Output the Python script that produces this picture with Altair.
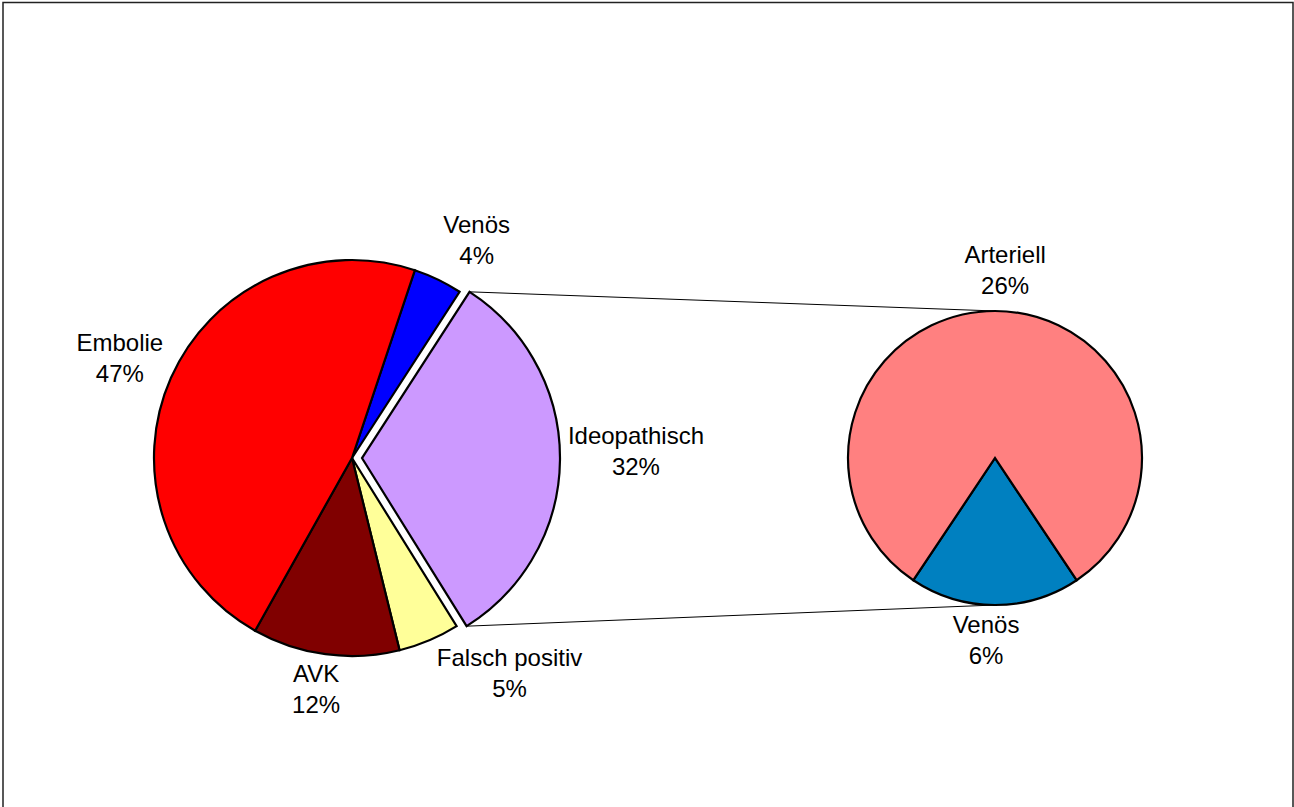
import numpy as np
import pandas as pd
import altair as alt

# Causes in percent, listed clockwise starting from the top of the main pie
causes = ["Venös", "Ideopathisch", "Falsch positiv", "AVK", "Embolie"]
cause_pct = [4, 32, 5, 12, 47]

# Breakdown of the idiopathic share (shown in the secondary pie)
sub_causes = ["Venös", "Arteriell"]
sub_pct = [6, 26]

# Styling / layout
PALETTE_MAIN = ["#0000FF", "#CC99FF", "#FFFF99", "#800000", "#FF0000"]
PALETTE_SUB = ["#0080C0", "#FF8080"]
W, H = 1294, 807
C1, R1 = (352.0, 458.0), 198.0      # main pie centre / radius
C2, R2 = (995.0, 458.0), 147.0      # secondary pie centre / radius
START1 = 18.5                        # degrees clockwise from 12 o'clock
EXPLODE = 10.0                       # pixel offset of the detached slice
DETACHED = "Ideopathisch"
FONT, FONT_SIZE, LINE_H = "Liberation Sans", 24, 31

# label placement: (angle in degrees clockwise from north, distance from centre)
LABEL_MAIN = {"Venös": (29.9, 250), "Ideopathisch": (88.8, 284),
              "Falsch positiv": (144.0, 268), "AVK": (188.8, 235),
              "Embolie": (292.9, 252)}
LABEL_SUB = {"Venös": (182.8, 184), "Arteriell": (3.1, 187)}


def slices(names, values, start_deg, total):
    df = pd.DataFrame({"name": names, "pct": values})
    frac = df["pct"].cumsum() / total
    df["t1"] = np.radians(start_deg) + 2 * np.pi * frac
    df["t0"] = df["t1"] - 2 * np.pi * df["pct"] / total
    df["mid"] = (df["t0"] + df["t1"]) / 2
    df["label"] = df["name"] + "\n" + df["pct"].astype(str) + "%"
    return df


main = slices(causes, cause_pct, START1, sum(cause_pct))
sub_total = sum(sub_pct)
# venous part of the breakdown sits centred at the bottom
start2 = 180 - 180 * sub_pct[0] / sub_total
sub = slices(sub_causes, sub_pct, start2, sub_total)

det = main[main["name"] == DETACHED].iloc[0]
dx = EXPLODE * np.sin(det["mid"])
dy = -EXPLODE * np.cos(det["mid"])


def arc_layer(df, centre, radius, names, palette):
    return alt.Chart(df).mark_arc(
        radius=radius, stroke="black", strokeWidth=2.2, strokeJoin="miter"
    ).encode(
        theta=alt.Theta("t0:Q", scale=None, stack=False),
        theta2="t1:Q",
        color=alt.Color("name:N", scale=alt.Scale(domain=names, range=palette), legend=None),
        x=alt.value(centre[0]),
        y=alt.value(centre[1]),
    )


def label_layer(df, centre, place):
    d = df.copy()
    d["ang"] = [np.radians(place[n][0]) for n in d["name"]]
    d["rad"] = [place[n][1] for n in d["name"]]
    # two-line labels: shift up by half a line so the block is centred
    return alt.Chart(d).mark_text(
        font=FONT, fontSize=FONT_SIZE, lineHeight=LINE_H, lineBreak="\n",
        align="center", baseline="middle", color="black", dy=-LINE_H / 2,
    ).encode(
        theta=alt.Theta("ang:Q", scale=None, stack=False),
        radius=alt.Radius("rad:Q", scale=None),
        text="label:N",
        x=alt.value(centre[0]),
        y=alt.value(centre[1]),
    )


main_fixed = arc_layer(main[main["name"] != DETACHED], C1, R1, causes, PALETTE_MAIN)
main_detached = arc_layer(main[main["name"] == DETACHED], (C1[0] + dx, C1[1] + dy),
                          R1, causes, PALETTE_MAIN)
sub_pie = arc_layer(sub, C2, R2, sub_causes, PALETTE_SUB)

# connector lines from the detached slice's outer corners to the secondary pie
ox, oy = C1[0] + dx, C1[1] + dy
conn = pd.DataFrame({
    "x": [ox + R1 * np.sin(det["t0"]), ox + R1 * np.sin(det["t1"])],
    "y": [oy - R1 * np.cos(det["t0"]), oy - R1 * np.cos(det["t1"])],
    "x2": [C2[0], C2[0]],
    "y2": [C2[1] - R2, C2[1] + R2],
})
connectors = alt.Chart(conn).mark_rule(color="black", strokeWidth=1).encode(
    x=alt.X("x:Q", scale=None), y=alt.Y("y:Q", scale=None),
    x2="x2:Q", y2="y2:Q",
)

frame = alt.Chart(pd.DataFrame({"k": [0]})).mark_rect(
    fill="white", fillOpacity=0, stroke="#222222", strokeWidth=1.5
).encode(x=alt.value(3), x2=alt.value(W - 1), y=alt.value(2.5), y2=alt.value(H + 20))

chart = alt.layer(
    frame, connectors, main_fixed, main_detached, sub_pie,
    label_layer(main, C1, LABEL_MAIN), label_layer(sub, C2, LABEL_SUB),
).resolve_scale(
    color="independent", theta="independent", radius="independent"
).properties(
    width=W, height=H, padding=0, autosize=alt.AutoSizeParams(type="none"),
    background="white",
).configure_view(stroke=None)

chart.save("out.html", embed_options={"renderer": "svg", "actions": False})
